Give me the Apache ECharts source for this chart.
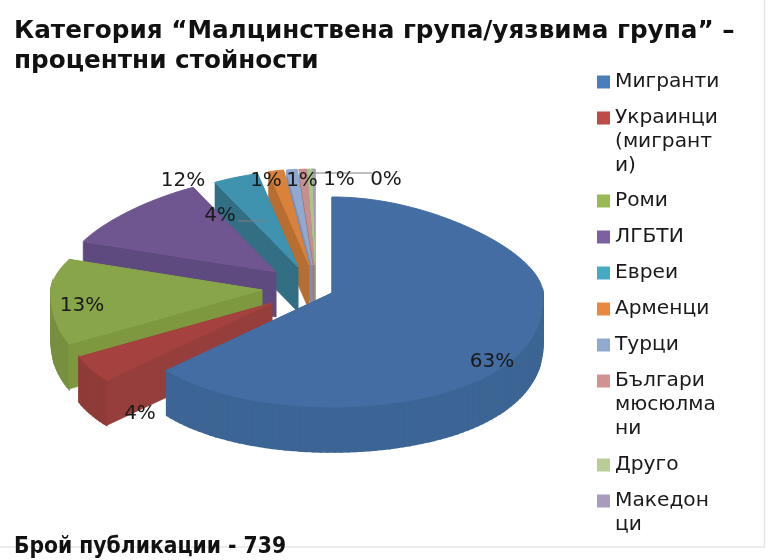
<!DOCTYPE html>
<html>
<head>
<meta charset="utf-8">
<style>html,body{margin:0;padding:0;background:#fff}#c{width:769px;height:560px}</style>
<script src="https://cdn.jsdelivr.net/npm/echarts@6/dist/echarts.min.js"></script>
</head>
<body>
<div id="c"></div>
<script>
const categories = ['Мигранти','Украинци (мигранти)','Роми','ЛГБТИ','Евреи','Арменци','Турци','Българи мюсюлмани','Друго','Македонци'];
const percentValues = [63,4,13,12,4,1.4,1,0.7,0.4,0.3];
const legendText = ['Мигранти','Украинци\n(мигрант\nи)','Роми','ЛГБТИ','Евреи','Арменци','Турци','Българи\nмюсюлма\nни','Друго','Македон\nци'];
const titleText = 'Категория “Малцинствена група/уязвима група” –\nпроцентни стойности';
const footerText = 'Брой публикации - 739';

// styling and layout
const legendColors = ['#4A7EBB','#BE4B48','#98B954','#7D60A0','#46AAC5','#E8893F','#92A9CF','#D09392','#B9CD96','#A99BBD'];
const topColors  = ['#436DA3','#A5423F','#88A54A','#6F5690','#3F93AE','#D9823B','#8FA9D1','#C98F8E','#A9C68B','#A99BBD'];
const wallColors = ['#3C6595','#8F3B38','#76903F','#5E4A7E','#35768C','#B56F33','#7688AB','#A87877','#8FA877','#8A7E9C'];
const cutColors  = ['#3C6595','#963E3B','#7D983F','#5E4A7E','#336F84','#B86E30','#7A8FB5','#A87877','#8FA877','#8A7E9C'];
const explodeOffsets = [[32,8],[-28,18],[-38,5],[-24,-13],[-2,-18],[9,-20],[12,-20],[14,-20],[15,-20],[15,-20]];
const labelAt = [[492,362],[140,414],[82,306],[183,181],[220,216],[266,181],[302,181],[339,180],[386,180],null];
const leaders = {4:[[238,221],[267,221]],8:[[312,173],[372,173]]};
const legendY = [82,118,201,237,273,309,345,381,465,501];
const FONT = '"DejaVu Sans", sans-serif';
const C = {x:300, y:285, a:211, back:96, front:114, depth:45, perspBack:0.2, perspFront:0.12};

const total = percentValues.reduce((s,v)=>s+v,0);
const startAngle = i => percentValues.slice(0,i).reduce((s,v)=>s+v,0)/total*2*Math.PI;

function project(r, t, off){
  const X = r*Math.sin(t), Y = r*Math.cos(t);
  const bend = Y>0 ? -C.perspBack*Math.pow(Y,1.5) : C.perspFront*Math.pow(-Y,1.5);
  return [C.x+off[0]+C.a*X*(1+bend), C.y+off[1]-Y*(Y>0?C.back:C.front)];
}
const down = p => [p[0], p[1]+C.depth];
const poly = (points, fill, z2, lineWidth) => ({type:'polygon', shape:{points}, style:{fill, stroke:fill, lineWidth:lineWidth||0.6}, z2, silent:true});

function renderSlice(i){
  return function(params, api){
    const off = explodeOffsets[i], share = api.value(0)/total*2*Math.PI;
    const t1 = startAngle(i), t2 = t1+share, base = (10-i)*10, arc = [];
    const n = Math.max(2, Math.ceil(share/0.03));
    const at = k => t1+(t2-t1)*k/n;
    for(let k=0;k<=n;k++) arc.push(project(1, at(k), off));
    const apex = project(0,0,off), first = arc[0], last = arc[arc.length-1];
    const children = [poly([apex,last,down(last),down(apex)], cutColors[i], base)];
    for(let k=0;k<n;k++){
      if(Math.cos(at(k+0.5))<0.05) children.push(poly([arc[k],arc[k+1],down(arc[k+1]),down(arc[k])], wallColors[i], base+1, 1.6));
    }
    children.push(
      poly([apex,first,down(first),down(apex)], cutColors[i], base+2),
      poly([apex].concat(arc), topColors[i], base+3, 1)
    );
    if(leaders[i]) children.push({type:'polyline', shape:{points:leaders[i]}, style:{stroke:'#7f7f7f', lineWidth:1, fill:null}, z2:900, silent:true});
    if(labelAt[i]) children.push({type:'text', x:labelAt[i][0], y:labelAt[i][1], z2:1000, silent:true,
      style:{text:Math.round(api.value(0))+'%', font:'20px '+FONT, fill:'#1a1a1a', align:'center', verticalAlign:'middle'}});
    return {type:'group', children};
  };
}

const LINE = 24;
const option = {
  animation:false,
  backgroundColor:'#fff',
  title:[
    {text:titleText, left:14, top:17, padding:0, textStyle:{fontFamily:FONT, fontSize:24.7, fontWeight:'bold', color:'#111', lineHeight:29.5}},
    {text:footerText, left:14, top:536, padding:0, textStyle:{fontFamily:'"DejaVu Sans Condensed", "DejaVu Sans", sans-serif', fontSize:22.6, fontWeight:'bold', color:'#111'}}
  ],
  legend:categories.map((name,i)=>{
    const lines = legendText[i].split('\n');
    return {
      data:[name], orient:'vertical', left:597, padding:0, itemWidth:13, itemHeight:13, icon:'rect', selectedMode:false,
      top:legendY[i]-(2*lines.length-1)*LINE/2,
      formatter:()=>'\n'.repeat(lines.length-1)+legendText[i],
      textStyle:{fontFamily:FONT, fontSize:20.2, lineHeight:LINE, color:'#1a1a1a'}
    };
  }),
  series:categories.map((name,i)=>({
    type:'custom', name, coordinateSystem:'none', data:[[percentValues[i]]],
    itemStyle:{color:legendColors[i]}, renderItem:renderSlice(i), silent:true
  })),
  graphic:[
    {type:'polyline', shape:{points:[[764.5,0],[764.5,547],[0,547]]}, style:{stroke:'#e6e6e6', lineWidth:1.5, fill:null}, z:-1}
  ]
};
echarts.init(document.getElementById('c'),null,{renderer:'canvas'}).setOption(option);
</script>
</body>
</html>
